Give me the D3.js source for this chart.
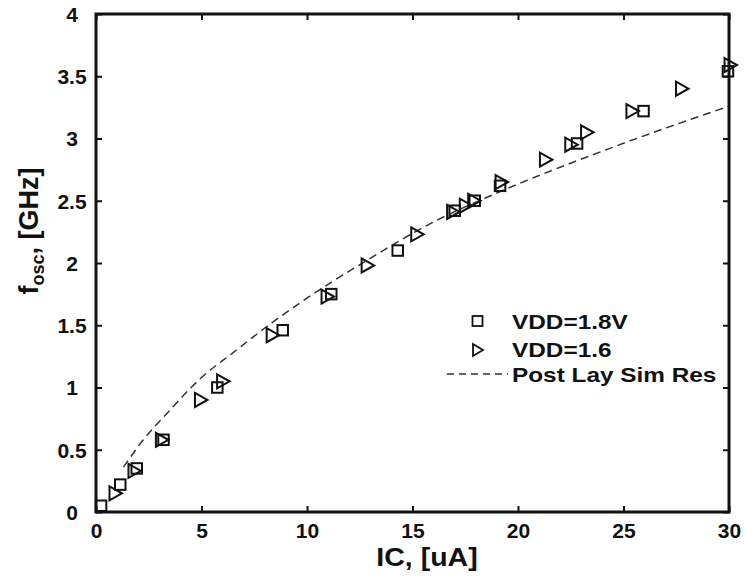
<!DOCTYPE html>
<html><head><meta charset="utf-8">
<script src="https://cdn.jsdelivr.net/npm/d3@7"></script>
<style>body{margin:0;background:#fff}svg{display:block;font-family:"Liberation Sans",Arial,sans-serif;font-weight:bold}</style>
</head><body><svg id="c" width="746" height="579"></svg>
<script>
const xTicks=[0,5,10,15,20,25,30];
const yTicks=[0,0.5,1,1.5,2,2.5,3,3.5,4];
const yTickLabels=["0","0.5","1","1.5","2","2.5","3","3.5","4"];
const sqX=[0.24,1.15,1.93,3.2,5.75,8.85,11.15,14.3,17.0,17.95,19.15,22.8,25.95,29.95];
const sqY=[0.05,0.22,0.35,0.58,1.0,1.46,1.75,2.1,2.42,2.5,2.62,2.96,3.22,3.54];
const trX=[0.9,1.8,3.1,4.95,6.0,8.35,10.95,12.85,15.2,16.9,17.5,17.9,19.2,21.3,22.5,23.25,25.4,27.75,30.05];
const trY=[0.15,0.33,0.58,0.9,1.05,1.42,1.73,1.98,2.23,2.41,2.46,2.5,2.65,2.83,2.95,3.05,3.22,3.4,3.59];
const simX=[1.3,2.24,3.35,5,6.5,8.1,9.67,12.83,16,18.83,24.5,30];
const simY=[0.36,0.58,0.79,1.08,1.28,1.49,1.68,2.02,2.33,2.55,2.93,3.26];
const legendLabels=["VDD=1.8V","VDD=1.6","Post Lay Sim Res"];

const svg=d3.select("#c");
const L=96,R=729,T=14,B=512;
const x=d3.scaleLinear().domain([0,30]).range([L,R]);
const y=d3.scaleLinear().domain([0,4]).range([B,T]);
const ink="#111";

// dashed sim line
const sim=simX.map((v,i)=>[v,simY[i]]);
svg.append("path").datum(sim)
 .attr("d",d3.line().x(d=>x(d[0])).y(d=>y(d[1])).curve(d3.curveMonotoneX))
 .attr("fill","none").attr("stroke","#333").attr("stroke-width",1.5).attr("stroke-dasharray","8,5");

// squares
const s=10.5;
svg.append("g").selectAll("rect").data(sqX.map((v,i)=>[v,sqY[i]])).join("rect")
 .attr("x",d=>x(d[0])-s/2).attr("y",d=>y(d[1])-s/2).attr("width",s).attr("height",s)
 .attr("fill","none").attr("stroke",ink).attr("stroke-width",2);
// triangles (right-pointing)
const tri=d=>{const cx=x(d[0]),cy=y(d[1]);return `M${cx-5.5},${cy-7}L${cx+7},${cy}L${cx-5.5},${cy+7}Z`;};
svg.append("g").selectAll("path").data(trX.map((v,i)=>[v,trY[i]])).join("path")
 .attr("d",tri).attr("fill","none").attr("stroke",ink).attr("stroke-width",2);

// axes with inward ticks
const fs=21;
const gx=svg.append("g").attr("transform",`translate(0,${B})`)
 .call(d3.axisBottom(x).tickValues(xTicks).tickSize(-6).tickFormat(d3.format("d")));
const gxt=svg.append("g").attr("transform",`translate(0,${T})`)
 .call(d3.axisTop(x).tickValues(xTicks).tickSize(-6).tickFormat(""));
const gy=svg.append("g").attr("transform",`translate(${L},0)`)
 .call(d3.axisLeft(y).tickValues(yTicks).tickSize(-6).tickFormat((d,i)=>yTickLabels[i]));
const gyr=svg.append("g").attr("transform",`translate(${R},0)`)
 .call(d3.axisRight(y).tickValues(yTicks).tickSize(-6).tickFormat(""));
[gx,gxt,gy,gyr].forEach(g=>{
 g.select(".domain").remove();
 g.selectAll(".tick line").attr("stroke",ink).attr("stroke-width",2);
 g.selectAll("text").attr("font-size",fs).attr("font-family","Liberation Sans, Arial, sans-serif")
  .attr("font-weight","bold").attr("fill",ink);
});
gx.selectAll("text").attr("y",26).attr("dy",0);
gy.selectAll("text").attr("x",-(L-72)).attr("text-anchor","middle").attr("dy","0.35em");
svg.append("rect").attr("x",L).attr("y",T).attr("width",R-L).attr("height",B-T)
 .attr("fill","none").attr("stroke",ink).attr("stroke-width",3);

// axis titles
svg.append("g").attr("transform","translate(427,566) scale(1.14,1)")
 .append("text").attr("text-anchor","middle").attr("font-size",25).attr("fill",ink).text("IC, [uA]");
const yl=svg.append("text").attr("transform","translate(38,231) rotate(-90)").attr("text-anchor","middle")
 .attr("font-size",27).attr("fill",ink);
yl.append("tspan").text("f");
yl.append("tspan").attr("font-size",18).attr("dy",6).text("osc");
yl.append("tspan").attr("dy",-6).text(", [GHz]");

// legend
const lg=svg.append("g");
const lx=512;
lg.append("rect").attr("x",477.5-5).attr("y",321-5).attr("width",10).attr("height",10)
 .attr("fill","none").attr("stroke",ink).attr("stroke-width",1.8);
lg.append("path").attr("d","M473,344L483,350L473,356Z").attr("fill","none").attr("stroke",ink).attr("stroke-width",1.8);
lg.append("line").attr("x1",447).attr("x2",508).attr("y1",374).attr("y2",374)
 .attr("stroke","#333").attr("stroke-width",1.5).attr("stroke-dasharray","7,5");
[322,349.5,375].forEach((yy,i)=>{
 lg.append("g").attr("transform",`translate(${lx},${yy}) scale(1.16,1)`)
  .append("text").attr("dy","0.35em").attr("font-size",21).attr("fill",ink).text(legendLabels[i]);
});
</script></body></html>
